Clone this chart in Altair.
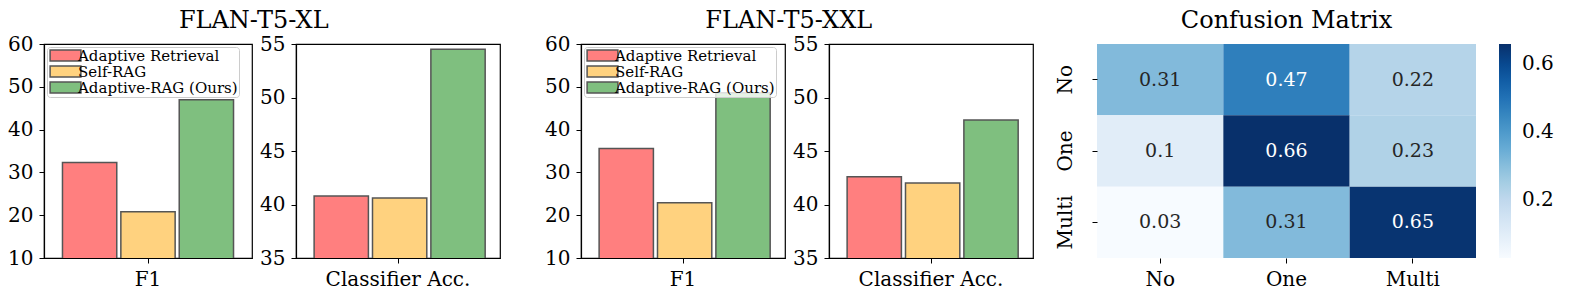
import altair as alt
import pandas as pd

FONT = "DejaVu Serif"

# ---- data ----
methods = ["Adaptive Retrieval", "Self-RAG", "Adaptive-RAG (Ours)"]
method_colors = ["#ff7f7f", "#ffd27f", "#7fbf7f"]

xl_f1 = [32.3, 20.8, 47.0]
xl_acc = [40.8, 40.6, 54.5]
xxl_f1 = [35.6, 22.9, 48.6]
xxl_acc = [42.6, 42.0, 47.9]

f1_ticks = [10, 20, 30, 40, 50, 60]
acc_ticks = [35, 40, 45, 50, 55]

cm_labels = ["No", "One", "Multi"]
cm_row_no = [0.31, 0.47, 0.22]
cm_row_one = [0.1, 0.66, 0.23]
cm_row_multi = [0.03, 0.31, 0.65]
cbar_ticks = [0.2, 0.4, 0.6]

blues = ["#f7fbff", "#deebf7", "#c6dbef", "#9ecae1", "#6baed6",
         "#4292c6", "#2171b5", "#08519c", "#08306b"]

PLOT_H = 214


def bar_panel(vals, metric, ticks, width, show_legend):
    df = pd.DataFrame({"metric": [metric] * 3, "method": methods, "value": vals})
    if show_legend:
        leg = alt.Legend(
            title=None, orient="top-left", offset=3, padding=1,
            fillColor="rgba(255,255,255,0.8)", strokeColor="#cccccc",
            cornerRadius=3, symbolType="M-2.8,-1H2.8V1H-2.8Z", symbolSize=121,
            symbolStrokeColor="#555555", symbolStrokeWidth=1.5,
            symbolOpacity=1, symbolOffset=10, labelOffset=5, labelLimit=400,
            labelFont=FONT, labelFontSize=15, labelColor="black",
            rowPadding=-3,
        )
    else:
        leg = None
    return alt.Chart(df).mark_bar(
        stroke="#555555", strokeWidth=1.5, clip=True, opacity=1
    ).encode(
        x=alt.X("metric:N", title=None,
                scale=alt.Scale(paddingInner=0, paddingOuter=0.108),
                axis=alt.Axis(labelAngle=0, labelPadding=6)),
        xOffset=alt.XOffset("method:N", sort=methods,
                            scale=alt.Scale(paddingInner=0.07, paddingOuter=0)),
        y=alt.Y("value:Q", title=None,
                scale=alt.Scale(domain=[ticks[0], ticks[-1]], nice=False, zero=False),
                axis=alt.Axis(values=ticks)),
        color=alt.Color("method:N", sort=methods,
                        scale=alt.Scale(domain=methods, range=method_colors),
                        legend=leg),
    ).properties(width=width, height=PLOT_H,
                 view=alt.ViewBackground(stroke="black", strokeWidth=1.2))


def group(f1_vals, acc_vals, title, w1, w2):
    g = alt.hconcat(
        bar_panel(f1_vals, "F1", f1_ticks, w1, True),
        bar_panel(acc_vals, "Classifier Acc.", acc_ticks, w2, False),
        spacing=5,
    ).resolve_scale(color="independent", y="independent").resolve_legend(color="independent")
    return g.properties(title=alt.TitleParams(title, anchor="middle", offset=0))


xl = group(xl_f1, xl_acc, "FLAN-T5-XL", 208, 204)
xxl = group(xxl_f1, xxl_acc, "FLAN-T5-XXL", 204, 204)

# ---- confusion matrix ----
rows = []
for true_lab, row in zip(cm_labels, [cm_row_no, cm_row_one, cm_row_multi]):
    for pred_lab, v in zip(cm_labels, row):
        rows.append({"true": true_lab, "pred": pred_lab, "value": v})
cm_df = pd.DataFrame(rows)

vmin, vmax = min(cm_df["value"]), max(cm_df["value"])
stops = [vmin + (vmax - vmin) * i / (len(blues) - 1) for i in range(len(blues))]

hx = alt.X("pred:N", sort=cm_labels, title=None,
           scale=alt.Scale(paddingInner=0, paddingOuter=0),
           axis=alt.Axis(labelAngle=0, domain=False, labelPadding=6))
hy = alt.Y("true:N", sort=cm_labels, title=None,
           scale=alt.Scale(paddingInner=0, paddingOuter=0),
           axis=alt.Axis(labelAngle=270, labelAlign="center",
                         labelBaseline="alphabetic", domain=False, labelPadding=21))

cells = alt.Chart(cm_df).mark_rect().encode(
    x=hx, y=hy,
    color=alt.Color("value:Q",
                    scale=alt.Scale(domain=stops, range=blues, interpolate="rgb"),
                    legend=alt.Legend(title=None, orient="right", offset=23,
                                      gradientLength=PLOT_H, gradientThickness=12,
                                      gradientStrokeWidth=0, values=cbar_ticks,
                                      format=".1f", labelFont=FONT, labelFontSize=20,
                                      labelColor="black", labelOffset=11)),
)
annot = alt.Chart(cm_df).mark_text(font=FONT, fontSize=19).encode(
    x=hx, y=hy,
    text=alt.Text("value:Q", format=".2~g"),
    color=alt.condition(alt.datum.value > 0.4, alt.value("white"), alt.value("#262626")),
)
heat = alt.layer(cells, annot).properties(
    width=379, height=PLOT_H,
    title=alt.TitleParams("Confusion Matrix", anchor="middle", offset=11),
)

left = alt.hconcat(xl, xxl, spacing=42).resolve_scale(color="independent").resolve_legend(color="independent")
chart = alt.hconcat(left, heat, spacing=21).resolve_scale(color="independent").resolve_legend(color="independent")

chart = chart.properties(
    padding={"left": 6, "top": 9, "right": 5, "bottom": 5},
    background="white",
).configure(font=FONT).configure_view(stroke=None).configure_axis(
    labelFont=FONT, labelFontSize=20, labelColor="black",
    tickColor="black", tickSize=5, tickWidth=1,
    domainColor="black", domainWidth=1.2, grid=False, labelPadding=6,
).configure_title(
    font=FONT, fontSize=24, fontWeight="normal", color="black",
)

chart.save("out.html", embed_options={"renderer": "svg", "actions": False})
